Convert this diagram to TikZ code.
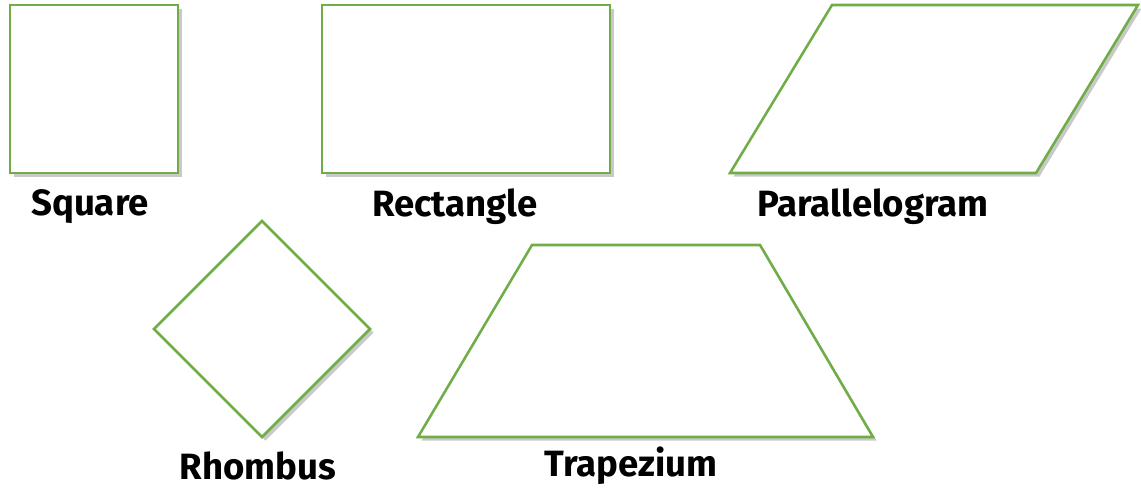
\documentclass[tikz,border=0pt]{standalone}
\usepackage{fontspec}
\setmainfont{Fira Sans}
\usepackage{tikz}
\usetikzlibrary{shadows}

\definecolor{shapegreen}{HTML}{70AD47}

\tikzset{
    shapeline/.style={draw=shapegreen, line width=1.8pt, fill=white, line join=miter,
        drop shadow={shadow xshift=2.5pt, shadow yshift=-2.5pt, opacity=0.3, fill=black!70}},
    shapename/.style={font=\fontsize{26}{29}\selectfont\bfseries, inner sep=0pt, text=black}
}

\begin{document}
\begin{tikzpicture}[x=0.025cm, y=-0.025cm]
            \useasboundingbox (0,0) rectangle (1141,488);

            % Top row
            \path[shapeline] (10,5) rectangle (178,173);
            \path[shapeline] (322,5) rectangle (610,173);
            \path[shapeline] (832,5) -- (1138,5) -- (1036,173) -- (730,173) -- cycle;

            % Bottom row
            \path[shapeline] (262,221) -- (370,329) -- (262,437) -- (154,329) -- cycle;
            \path[shapeline] (532,245) -- (760,245) -- (873,437) -- (418,437) -- cycle;

            % Names
            \node[shapename] (square) at (90,207) {Square};
            \node[shapename] (rectangle) at (455,207) {Rectangle};
            \node[shapename] (parallelogram) at (873,207) {Parallelogram};
            \node[shapename] (rhombus) at (258,466) {Rhombus};
            \node[shapename] (trapezium) at (631,466) {Trapezium};

\end{tikzpicture}
\end{document}
